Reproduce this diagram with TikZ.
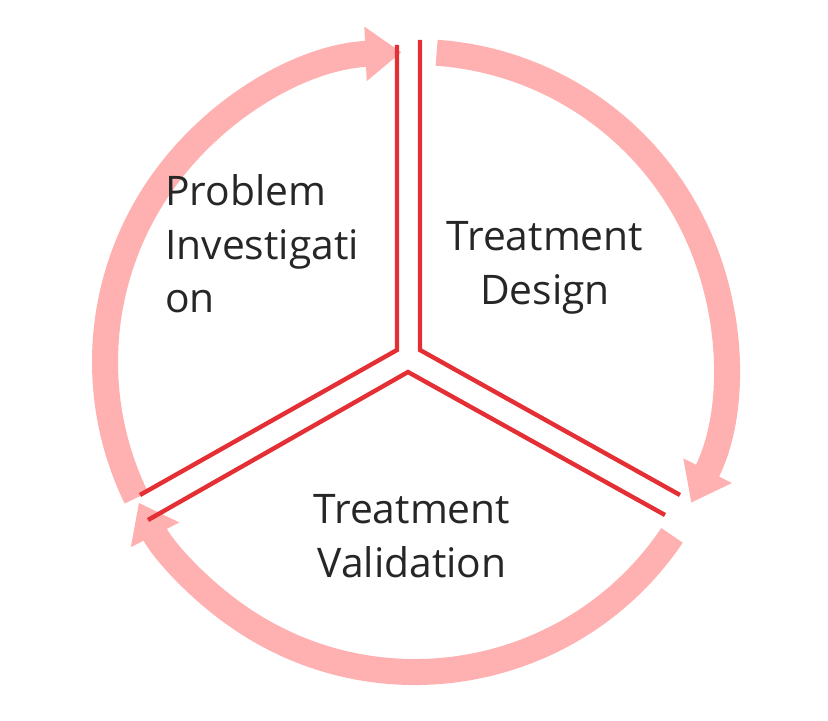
\documentclass[tikz,border=0pt]{standalone}
\usepackage{fontspec}
\setmainfont{Open Sans}
\usetikzlibrary{arrows.meta}
\definecolor{ringpink}{RGB}{255,176,176}
\definecolor{edgered}{RGB}{228,48,52}
\begin{document}
\begin{tikzpicture}
        \useasboundingbox (0,0) rectangle (20.7,18);
        % Define the centre of the cycle
        \coordinate (C) at (10.375,8.95);
        \tikzset{ring/.style={ringpink, line width=0.65cm, -{Triangle[length=0.9cm, width=1.3cm]}},
                 wedge/.style={edgered, line width=0.11cm},
                 label/.style={font=\fontsize{29}{38}\selectfont, text=black!85, align=center}}
        
        % Define the arrows of the ring
        \draw[ring] ([shift=(206:7.75)]C) arc (206:92.5:7.75);
        \draw[ring] ([shift=(86:7.75)]C) arc (86:-27:7.75);
        \draw[ring] ([shift=(-34:7.75)]C) arc (-34:-153:7.75);
        
        % Define the wedge borders
        \coordinate (TL1) at (9.925,16.875);
        \coordinate (TL2) at (9.925,9.25);
        \coordinate (TL3) at (3.5,5.625);
        \coordinate (TR1) at (10.5,17);
        \coordinate (TR2) at (10.5,9.25);
        \coordinate (TR3) at (17,5.625);
        \coordinate (B1) at (3.7,5);
        \coordinate (B2) at (10.2,8.7);
        \coordinate (B3) at (16.625,5.125);
        \draw[wedge] (TL1) -- (TL2) -- (TL3);
        \draw[wedge] (TR1) -- (TR2) -- (TR3);
        \draw[wedge] (B1) -- (B2) -- (B3);
        
        % Define the phase labels
        \node[label, align=left] (PI) at (6.55,11.9) {Problem\\Investigati\\on};
        \node[label] (TD) at (13.625,11.3) {Treatment\\Design};
        \node[label] (TV) at (10.3,4.6) {Treatment\\Validation};
    \end{tikzpicture}
\end{document}
